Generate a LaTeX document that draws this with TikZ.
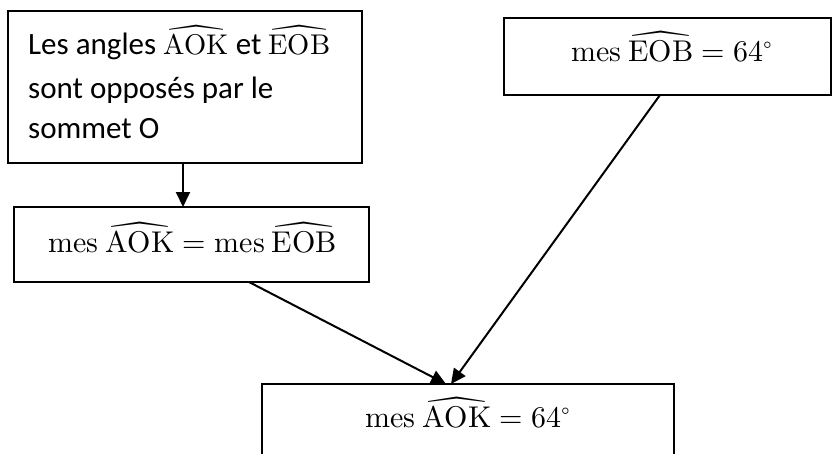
\documentclass[tikz,border=0pt]{standalone}
\usepackage{fontspec}
\usepackage{amsmath}
\usepackage{unicode-math}
\setmainfont{Carlito}
\setmathfont{Latin Modern Math}
\usetikzlibrary{arrows.meta}

% angle notation: upright serif letters under a wide hat
\newcommand{\angmark}[1]{\widehat{\symup{#1}}}
\newcommand{\mesword}{\symup{mes}}
% slightly smaller angle inside running text
\newcommand{\inlineang}[1]{{\fontsize{28.5}{40}\selectfont$\angmark{#1}$}}

\begin{document}
\begin{tikzpicture}[x=1pt,y=-1pt,
  box/.style={draw, line width=2pt, inner sep=0pt, outer sep=0pt,
              rectangle, anchor=north west},
  eqtext/.style={anchor=base, inner sep=0pt, font=\fontsize{30}{36}\selectfont},
  bodytext/.style={anchor=base west, inner sep=0pt, font=\fontsize{31}{40}\selectfont},
  link/.style={line width=2pt, -{Triangle[length=15pt,width=14pt]}}]

  \useasboundingbox (0,0) rectangle (833,453);
  \clip (0,0) rectangle (833,453);

  % boxes
  \node[box, minimum width=354pt, minimum height=152pt] (b1) at (8,11) {};
  \node[box, minimum width=327pt, minimum height=77pt]  (b2) at (504,18) {};
  \node[box, minimum width=355pt, minimum height=75pt]  (b3) at (14,207) {};
  \node[box, minimum width=412pt, minimum height=90pt]  (b4) at (262,384) {};

  % texts
  \node[bodytext] (t1a) at (28,54) {Les angles \inlineang{AOK} et \inlineang{EOB}};
  \node[bodytext] (t1b) at (28,98) {sont opposés par le};
  \node[bodytext] (t1c) at (28,138) {sommet O};

  \node[eqtext] (t2) at (672,61) {$\mesword\ \angmark{EOB}=64^{\circ}$};
  \node[eqtext] (t3) at (192.5,252) {$\mesword\ \angmark{AOK}=\mesword\ \angmark{EOB}$};
  \node[eqtext] (t4) at (468,427) {$\mesword\ \angmark{AOK}=64^{\circ}$};

  % connectors
  \draw[link] ([xshift=-2pt]b1.south) -- ([xshift=-8.5pt]b3.north);
  \draw[link] ([xshift=57.5pt]b3.south) -- ([xshift=-22pt]b4.north);
  \draw[link] ([xshift=-7.5pt]b2.south) -- ([xshift=-17pt]b4.north);
\end{tikzpicture}
\end{document}
